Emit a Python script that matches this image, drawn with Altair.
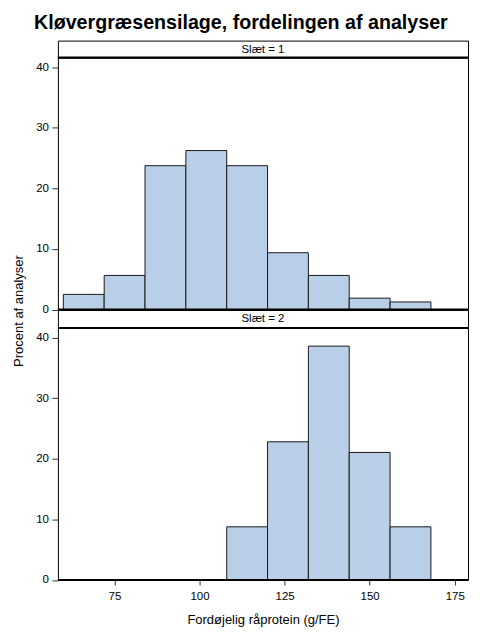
import altair as alt
import pandas as pd

# ---- data ----
bin_start = [60, 72, 84, 96, 108, 120, 132, 144, 156]
bin_width = 12
pct_slaet1 = [2.5, 5.625, 23.75, 26.25, 23.75, 9.375, 5.625, 1.875, 1.25]
pct_slaet2 = [0, 0, 0, 0, 8.77, 22.81, 38.6, 21.05, 8.77]
panel_labels = ["Slæt = 1", "Slæt = 2"]
x_ticks = [75, 100, 125, 150, 175]
y_ticks = [0, 10, 20, 30, 40]

FONT = "Liberation Sans"
FILL = "#B9CFE8"
STROKE = "#1a1a1a"
W = 411
PH = 252.5
x_dom = [58.4, 178.9]
y_dom = [0, 41.6]


def make_df(pcts):
    return pd.DataFrame({
        "start": bin_start,
        "end": [s + bin_width for s in bin_start],
        "pct": pcts,
    })


def header(label, hh):
    base = alt.Chart(pd.DataFrame({"label": [label]}))
    txt = base.mark_text(font=FONT, fontSize=11.5, color="black").encode(
        text="label:N", x=alt.value(W / 2), y=alt.value(hh / 2 + 0.5)
    )
    rule = base.mark_rule(color="black", strokeWidth=2).encode(
        x=alt.value(0), x2=alt.value(W), y=alt.value(hh)
    )
    return alt.layer(txt, rule).properties(width=W, height=hh)


def panel(pcts, bottom, ytitle):
    df = make_df(pcts)
    xs = alt.Scale(domain=x_dom, nice=False, zero=False)
    ys = alt.Scale(domain=y_dom, nice=False)
    common = dict(
        labelFont=FONT, labelFontSize=11.5, labelColor="black",
        titleFont=FONT, titleFontSize=13, titleFontWeight="normal", titleColor="black",
        tickColor="#333333", domain=False, grid=False,
    )
    if bottom:
        xaxis = alt.Axis(values=x_ticks, title="Fordøjelig råprotein (g/FE)",
                         tickSize=5, labelPadding=6, titlePadding=11, **common)
    else:
        xaxis = None
    if ytitle:
        yaxis = alt.Axis(values=y_ticks, title="Procent af analyser", titleY=PH + 1,
                         titlePadding=10, tickSize=6, labelPadding=3.5, **common)
    else:
        yaxis = alt.Axis(values=y_ticks, title=None, tickSize=6, labelPadding=3.5, **common)
    bars = alt.Chart(df).mark_rect(fill=FILL, stroke=STROKE, strokeWidth=1).encode(
        x=alt.X("start:Q", scale=xs, axis=xaxis),
        x2="end:Q",
        y=alt.Y("pct:Q", scale=ys, axis=yaxis),
        y2=alt.datum(0),
    )
    base_line = alt.Chart(pd.DataFrame({"z": [0]})).mark_rule(
        color="black", strokeWidth=2
    ).encode(y=alt.datum(0))
    return alt.layer(bars, base_line).properties(width=W, height=PH)


chart = alt.vconcat(
    header(panel_labels[0], 17),
    panel(pct_slaet1, False, True),
    header(panel_labels[1], 18),
    panel(pct_slaet2, True, False),
    spacing=0,
    bounds="flush",
).properties(
    title=alt.TitleParams(
        "Kløvergræsensilage, fordelingen af analyser",
        font=FONT, fontSize=19.7, fontWeight="bold", color="black",
        anchor="middle", frame="bounds", offset=7,
    ),
    padding={"left": 4, "top": 4, "right": 2, "bottom": 2},
).configure_view(stroke="black", strokeWidth=1)

chart.save("out.html", embed_options={"renderer": "svg", "actions": False})
